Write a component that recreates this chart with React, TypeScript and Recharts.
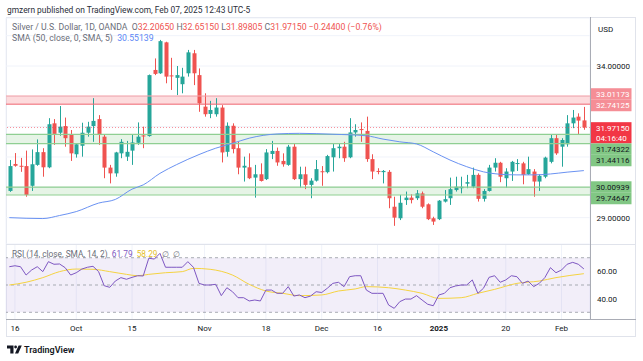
import React from 'react';
import { ComposedChart, Bar, Line, XAxis, YAxis, CartesianGrid, ReferenceArea, ReferenceLine } from 'recharts';

// ---------- data ----------
const openP = [29.88,30.77,30.71,30.70,30.05,30.74,31.16,30.66,32.11,31.80,32.02,31.73,31.09,31.37,31.80,32.02,32.25,31.67,30.65,30.46,31.12,31.01,31.21,31.47,31.71,31.69,33.87,33.76,34.78,33.69,33.61,33.40,33.76,34.42,33.70,32.66,32.42,32.41,32.63,31.17,32.03,31.29,30.65,30.66,30.32,30.43,30.27,31.10,31.20,30.87,30.74,31.34,30.27,30.43,30.08,30.22,30.53,30.50,30.99,31.29,31.34,30.99,31.81,31.92,31.86,30.93,30.54,30.50,30.51,29.36,28.98,29.58,29.66,29.64,29.80,29.44,28.98,28.95,29.53,29.64,29.91,29.97,30.12,30.02,30.41,29.62,29.88,30.65,30.81,30.30,30.52,30.79,30.79,30.43,30.52,30.19,30.35,30.84,31.62,31.34,31.42,32.11,32.33,32.2065];
const highP = [30.90,31.13,30.97,31.21,31.25,31.58,31.29,32.28,32.25,32.68,32.30,31.89,31.45,32.13,32.16,32.94,32.38,31.73,30.74,31.17,31.59,31.53,31.73,32.14,32.00,33.72,34.25,34.86,34.80,34.27,34.00,33.94,34.53,34.53,33.92,33.10,32.85,32.94,32.71,32.14,32.11,31.50,31.01,31.12,30.74,30.79,31.26,31.53,31.31,31.12,31.40,31.45,30.68,30.68,30.30,30.90,30.70,31.07,31.45,31.45,31.50,32.28,32.08,32.14,32.33,31.09,30.63,30.57,30.57,29.69,29.75,29.86,29.77,29.91,29.86,29.47,29.03,29.58,29.91,30.32,30.35,30.35,30.41,30.65,30.46,29.94,30.74,30.96,30.84,30.63,30.87,30.93,30.84,31.01,30.60,30.43,31.01,31.73,31.73,31.62,32.38,32.55,32.44,32.6515];
const lowP = [29.85,30.68,30.51,29.69,29.88,30.71,30.35,30.63,31.40,31.70,31.34,30.87,30.98,31.01,31.67,31.50,31.40,30.30,30.13,30.35,30.96,30.87,30.74,31.40,31.29,31.67,33.70,33.74,33.43,33.21,33.04,33.10,33.65,33.37,32.49,32.33,32.28,32.33,30.82,31.01,31.12,30.43,30.19,30.27,29.66,30.19,30.24,30.93,30.71,30.68,30.71,30.24,29.99,29.94,29.64,30.19,30.05,30.46,30.52,30.96,30.84,30.96,31.67,31.50,30.84,30.27,30.43,30.13,29.31,28.73,28.92,29.42,29.47,29.58,29.31,28.92,28.76,28.92,29.50,29.42,29.86,29.80,29.97,29.97,29.53,29.53,29.86,30.52,30.17,29.99,30.21,30.54,30.10,30.41,29.69,29.88,30.30,30.79,31.07,30.68,31.34,31.95,31.73,31.89805];
const closeP = [30.70,30.71,30.68,29.75,30.76,31.16,30.66,32.08,31.76,32.00,31.62,31.12,31.42,31.80,32.00,32.19,31.73,30.65,30.46,31.15,31.50,31.17,31.48,31.67,31.69,33.70,33.74,34.82,33.65,33.66,33.70,33.65,34.45,33.76,32.77,32.41,32.55,32.63,31.15,32.03,31.26,30.65,30.71,30.30,30.43,30.21,31.15,31.20,30.82,30.76,31.34,30.27,30.43,30.08,30.22,30.60,30.50,31.03,31.29,31.34,30.96,31.81,31.89,31.89,30.93,30.52,30.52,30.54,29.64,29.00,29.49,29.66,29.58,29.80,29.36,28.95,28.87,29.56,29.61,29.94,30.02,30.02,30.17,30.41,29.62,29.88,30.65,30.81,30.35,30.52,30.84,30.80,30.41,30.60,30.19,30.38,30.98,31.62,31.12,31.56,32.11,32.30,32.20,31.9715];

const smaIdx = [0,6,9,12,16,19,22,24,27,30,34,37,40,43,48,52,58,64,67,70,73,76,79,82,85,88,91,94,97,100,103];
const smaVals = [29.00,28.97,29.07,29.20,29.48,29.60,29.94,30.08,30.46,30.75,31.08,31.29,31.45,31.62,31.76,31.78,31.75,31.70,31.59,31.50,31.43,31.17,30.90,30.68,30.51,30.43,30.41,30.41,30.44,30.50,30.55139];

const rsiValues = [63.4,64.1,63.4,57.3,61.0,63.4,59.8,67.1,65.2,65.4,62.7,57.3,59.0,61.7,63.0,63.7,59.8,49.5,48.3,52.9,55.4,54.2,55.6,56.8,56.6,69.6,69.0,73.2,63.0,63.0,63.0,63.0,67.1,63.0,51.2,50.0,50.0,50.5,42.2,48.0,45.1,40.7,40.7,38.3,39.0,38.3,46.3,46.3,43.9,43.9,48.8,41.9,42.7,40.7,41.9,45.1,44.5,47.6,51.2,52.0,48.8,56.1,56.8,56.8,46.3,43.9,43.9,43.9,35.3,32.9,37.8,39.7,39.7,42.2,39.0,35.9,34.8,42.7,43.9,48.0,49.3,50.0,50.0,53.7,43.9,47.6,55.6,56.8,52.0,53.7,56.8,56.1,51.2,52.9,48.8,51.2,55.4,62.7,59.0,61.0,65.2,66.6,65.2,61.79];
const rsiSmaIdx = [0,3,6,9,12,15,18,21,23,25,28,31,33,36,40,43,46,49,52,56,59,62,64,68,71,74,77,81,84,87,91,95,98,103];
const rsiSmaVals = [50.0,52.0,55.4,59.8,61.7,61.5,59.8,57.8,56.8,57.8,59.0,59.8,62.2,61.5,57.3,50.5,45.6,43.9,42.2,42.7,45.6,47.1,48.8,48.0,46.3,43.9,40.2,40.7,43.9,46.8,51.2,52.9,55.4,58.29];

const xTickIdx = [1, 12, 22, 35, 46, 56, 66, 77, 89, 99];
const xTickLabels = ['16', 'Oct', '15', 'Nov', '18', 'Dec', '16', '2025', '20', 'Feb'];
const priceTicks = [29, 30, 31, 32, 33, 34, 35];
const priceLabelTicks = [29, 34];
const rsiTicks = [40, 60];
const rsiLevels = [70, 50, 30];

const resistance = [32.74125, 33.01173];
const support1 = [31.44116, 31.74322];
const support2 = [29.74647, 30.00939];
const lastClose = 31.9715;
const countdown = '04:16:40';
const smaLast = '30.55139';
const rsiLast = '61.79';
const rsiSmaLast = '58.29';

// ---------- styles ----------
const UP = '#26a69a';
const DOWN = '#ef5350';
const GRID = '#f0f3fa';
const AXIS = '#a9acb5';
const FONT = 'Roboto, "Liberation Sans", sans-serif';

const data = openP.map((o, i) => {
  const si = smaIdx.indexOf(i);
  const ri = rsiSmaIdx.indexOf(i);
  return {
    i,
    o,
    h: highP[i],
    l: lowP[i],
    c: closeP[i],
    sma: si >= 0 ? smaVals[si] : null,
    rsi: rsiValues[i],
    rsiSma: ri >= 0 ? rsiSmaVals[ri] : null,
  };
});

const Candle = (props: any) => {
  const { x, y, width, height, payload } = props;
  if (!payload || x == null) return <g />;
  const { o, h, l, c } = payload;
  const top = Math.min(y, y + height);
  const hPx = Math.abs(height);
  const k = hPx / (h - l || 1);
  const color = c >= o ? UP : DOWN;
  const bTop = top + (h - Math.max(o, c)) * k;
  const bH = Math.max(1, Math.abs(o - c) * k);
  const cx = Math.round(x + width / 2) + 0.5;
  return (
    <g>
      <line x1={cx} x2={cx} y1={top} y2={top + hPx} stroke={color} strokeWidth={1} />
      <rect x={cx - 2} y={bTop} width={4} height={bH} fill={color} />
    </g>
  );
};

const PriceTick = (props: any) => {
  const { x, y, payload } = props;
  if (!priceLabelTicks.includes(payload.value)) return <g />;
  return (
    <text x={x + 6.5} y={y} dy={2.9} fontSize={8} fill="#131722" textAnchor="start">
      {Number(payload.value).toFixed(5)}
    </text>
  );
};

const RsiTick = (props: any) => {
  const { x, y, payload } = props;
  return (
    <text x={x + 7} y={y} dy={2.9} fontSize={8} fill="#131722" textAnchor="start">
      {Number(payload.value).toFixed(2)}
    </text>
  );
};

const TimeTick = (props: any) => {
  const { x, y, payload } = props;
  const k = xTickIdx.indexOf(payload.value);
  const label = k >= 0 ? xTickLabels[k] : '';
  return (
    <text x={x} y={y} dy={12} fontSize={8} fill="#131722" textAnchor="middle" fontWeight={label === '2025' ? 700 : 400}>
      {label}
    </text>
  );
};

const tag = (lines: string[], bg: string, fg: string, dy: number, h: number) => (p: any) => {
  const vb = p.viewBox || {};
  const right = (vb.x || 0) + (vb.width || 0);
  const cy = (vb.y || 0) + dy;
  const top = cy - 5.75;
  return (
    <g>
      <rect x={right + 0.5} y={top} width={41} height={h} fill={bg} />
      {lines.map((t, j) => (
        <text key={j} x={right + 6} y={cy + j * 10.5} dy={2.9} fontSize={8} fill={fg}>
          {t}
        </text>
      ))}
    </g>
  );
};

export default function App() {
  return (
    <div style={{ position: 'absolute', left: 0, top: 0, width: 643, height: 361, background: '#fff', fontFamily: FONT, overflow: 'hidden' }}>
      {/* header */}
      <div style={{ position: 'absolute', left: 7, top: 4, fontSize: 8.4, color: '#2a2e39', whiteSpace: 'pre', lineHeight: '12px' }}>
        gmzern published on TradingView.com, Feb 07, 2025 12:43 UTC-5
      </div>
      {/* frame */}
      <div style={{ position: 'absolute', left: 6, top: 17, width: 630, height: 320, border: '1px solid #e0e3eb', boxSizing: 'border-box' }} />

      {/* main price pane */}
      <div style={{ position: 'absolute', left: 0, top: 0 }}>
        <ComposedChart width={643} height={244} data={data} margin={{ top: 18, right: 6, bottom: 0, left: 6 }}>
          <CartesianGrid stroke={GRID} strokeWidth={1} />
          <XAxis type="number" dataKey="i" domain={[-0.6, 104.1]} ticks={xTickIdx} allowDataOverflow height={0} tick={false} axisLine={false} tickLine={false} />
          <YAxis orientation="right" type="number" domain={[28.131, 35.583]} ticks={priceTicks} interval={0} allowDataOverflow width={47} axisLine={false} tickLine={false} tickSize={0} tickMargin={0} tick={<PriceTick />} />
          <ReferenceArea y1={resistance[0]} y2={resistance[1]} fill="#f23645" fillOpacity={0.18} stroke="none" />
          <ReferenceArea y1={support1[0]} y2={support1[1]} fill="#4caf50" fillOpacity={0.14} stroke="none" />
          <ReferenceArea y1={support2[0]} y2={support2[1]} fill="#4caf50" fillOpacity={0.14} stroke="none" />
          <ReferenceLine y={resistance[1]} stroke="#f5a3a9" strokeWidth={1} label={tag([resistance[1].toFixed(5)], '#f58e96', '#ffffff', -2, 11.5)} />
          <ReferenceLine y={resistance[0]} stroke="#ef6670" strokeWidth={1} label={tag([resistance[0].toFixed(5)], '#f58e96', '#ffffff', 1.3, 11.5)} />
          <ReferenceLine y={support1[1]} stroke="#8fcf92" strokeWidth={1.2} label={tag([support1[1].toFixed(5)], '#81c784', '#131722', 14.6, 11.5)} />
          <ReferenceLine y={support1[0]} stroke="#8fcf92" strokeWidth={1.2} label={tag([support1[0].toFixed(5)], '#81c784', '#131722', 16.9, 11.5)} />
          <ReferenceLine y={support2[1]} stroke="#8fcf92" strokeWidth={1.2} label={tag([support2[1].toFixed(5)], '#81c784', '#131722', 0, 11.5)} />
          <ReferenceLine y={support2[0]} stroke="#8fcf92" strokeWidth={1.2} label={tag([support2[0].toFixed(5)], '#81c784', '#131722', 3.5, 11.5)} />
          <ReferenceLine y={lastClose} stroke="#f23645" strokeOpacity={0.55} strokeDasharray="1 2" strokeWidth={1} label={tag([lastClose.toFixed(5), countdown], '#f23645', '#ffffff', 0.4, 21)} />
          <Line type="monotone" dataKey="sma" stroke="#6a92f2" strokeWidth={1} dot={false} connectNulls isAnimationActive={false} />
          <Bar dataKey={(d: any) => [d.l, d.h]} barSize={4} shape={<Candle />} isAnimationActive={false} />
        </ComposedChart>
      </div>

      {/* RSI pane */}
      <div style={{ position: 'absolute', left: 0, top: 244 }}>
        <ComposedChart width={643} height={93} data={data} margin={{ top: 0, right: 6, bottom: 0, left: 6 }}>
          <CartesianGrid stroke={GRID} horizontal={false} />
          <XAxis type="number" dataKey="i" domain={[-0.6, 104.1]} ticks={xTickIdx} interval={0} allowDataOverflow height={18} axisLine={false} tickLine={false} tickSize={0} tickMargin={0} tick={<TimeTick />} />
          <YAxis orientation="right" type="number" domain={[25.09, 80.04]} ticks={rsiTicks} interval={0} allowDataOverflow width={47} axisLine={false} tickLine={false} tickSize={0} tickMargin={0} tick={<RsiTick />} />
          <ReferenceArea y1={rsiLevels[2]} y2={rsiLevels[0]} fill="#7e57c2" fillOpacity={0.1} stroke="none" />
          {rsiLevels.map((v) => (
            <ReferenceLine key={v} y={v} stroke="#9598a1" strokeOpacity={0.8} strokeDasharray="3 3" strokeWidth={1} />
          ))}
          <Line type="monotone" dataKey="rsiSma" stroke="#f5d341" strokeWidth={1} dot={false} connectNulls isAnimationActive={false} />
          <Line type="linear" dataKey="rsi" stroke="#7e57c2" strokeWidth={1} dot={false} isAnimationActive={false} />
        </ComposedChart>
      </div>

      {/* pane separators and scale borders */}
      <div style={{ position: 'absolute', left: 6, top: 244, width: 630, height: 1, background: '#e0e3eb' }} />
      <div style={{ position: 'absolute', left: 590, top: 17, width: 1, height: 302, background: AXIS }} />
      <div style={{ position: 'absolute', left: 6, top: 319, width: 630, height: 1, background: AXIS }} />

      {/* legends */}
      <div style={{ position: 'absolute', left: 12, top: 22, fontSize: 8.7, color: '#6a6d78', whiteSpace: 'pre', lineHeight: '11px' }}>
        <span>Silver / U.S. Dollar, 1D, OANDA  </span>
        <span>O</span><span style={{ color: DOWN }}>{openP[openP.length - 1].toFixed(5)} </span>
        <span>H</span><span style={{ color: DOWN }}>{highP[highP.length - 1].toFixed(5)} </span>
        <span>L</span><span style={{ color: DOWN }}>{lowP[lowP.length - 1].toFixed(5)} </span>
        <span>C</span><span style={{ color: DOWN }}>{closeP[closeP.length - 1].toFixed(5)} −0.24400 (−0.76%)</span>
      </div>
      <div style={{ position: 'absolute', left: 12, top: 33, fontSize: 8.7, color: '#6a6d78', whiteSpace: 'pre', lineHeight: '11px' }}>
        <span>SMA (50, close, 0, SMA, 5)  </span><span style={{ color: '#5b87f5' }}>{smaLast}</span>
      </div>
      <div style={{ position: 'absolute', left: 598, top: 24, fontSize: 8, color: '#131722', lineHeight: '11px' }}>USD</div>
      <div style={{ position: 'absolute', left: 12, top: 249, fontSize: 8.3, color: '#6a6d78', whiteSpace: 'pre', lineHeight: '11px' }}>
        <span>RSI (14, close, SMA, 14, 2)  </span>
        <span style={{ color: '#7e57c2' }}>{rsiLast}  </span>
        <span style={{ color: '#e5c02a' }}>{rsiSmaLast}  </span>
        <span>∅  ∅</span>
      </div>

      {/* footer logo */}
      <svg style={{ position: 'absolute', left: 0, top: 340 }} width={120} height={20}>
        <path d="M7 5.5 h6.5 v8 h-3.2 v-5 h-3.3 z" fill="#131722" />
        <circle cx={15.6} cy={7} r={1.4} fill="#131722" />
        <path d="M18.6 5.5 h3.2 l-3.6 8 h-3.2 z" fill="#131722" />
      </svg>
      <div style={{ position: 'absolute', left: 24, top: 344, fontSize: 9, fontWeight: 600, color: '#131722', lineHeight: '12px' }}>TradingView</div>
    </div>
  );
}
